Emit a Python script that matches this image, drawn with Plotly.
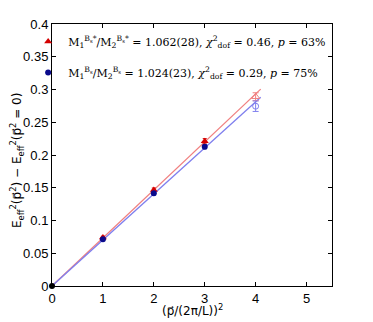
import numpy as np
import plotly.graph_objects as go

# momentum squared in units of (2pi/L)^2
x_fit = [1, 2, 3]
x_out = [4]

# B_s^* (red) and B_s (blue) energy differences
red_vals = [0.0740, 0.1466, 0.2210]
red_err = [0.0020, 0.0030, 0.0040]
blue_vals = [0.0712, 0.1415, 0.2125]
blue_err = [0.0015, 0.0025, 0.0030]
red_out = [0.2890]
red_out_err = [0.0060]
blue_out = [0.2745]
blue_out_err = [0.0080]

# fitted slopes and line extent
red_slope = 0.0733
blue_slope = 0.0703
line_x = [0, 4.1]

RED = "#d40000"
BLUE = "#0a0a8c"
LRED = "#f08080"
LBLUE = "#8080ee"

fig = go.Figure()

fig.add_trace(go.Scatter(x=line_x, y=[red_slope * v for v in line_x], mode="lines",
                         line=dict(color=LRED, width=1.3), showlegend=False))
fig.add_trace(go.Scatter(x=line_x, y=[blue_slope * v for v in line_x], mode="lines",
                         line=dict(color=LBLUE, width=1.3), showlegend=False))

fig.add_trace(go.Scatter(
    x=x_fit, y=red_vals, mode="markers",
    error_y=dict(type="data", array=red_err, color=RED, thickness=1, width=2),
    marker=dict(symbol="triangle-up", size=7, color=RED),
    name="M<sub>1</sub><sup>B<sub>s</sub>*</sup>/M<sub>2</sub><sup>B<sub>s</sub>*</sup> = 1.062(28), "
         "<i>χ</i><sup>2</sup><sub>dof</sub> = 0.46, <i>p</i> = 63%",
    legendgroup="a"))
fig.add_trace(go.Scatter(
    x=x_fit, y=blue_vals, mode="markers",
    error_y=dict(type="data", array=blue_err, color=BLUE, thickness=1, width=2),
    marker=dict(symbol="circle", size=6, color=BLUE),
    name="M<sub>1</sub><sup>B<sub>s</sub></sup>/M<sub>2</sub><sup>B<sub>s</sub></sup> = 1.024(23), "
         "<i>χ</i><sup>2</sup><sub>dof</sub> = 0.29, <i>p</i> = 75%",
    legendgroup="b"))

fig.add_trace(go.Scatter(
    x=x_out, y=red_out, mode="markers", showlegend=False,
    error_y=dict(type="data", array=red_out_err, color=LRED, thickness=1, width=3),
    marker=dict(symbol="triangle-up-open", size=7, color=LRED)))
fig.add_trace(go.Scatter(
    x=x_out, y=blue_out, mode="markers", showlegend=False,
    error_y=dict(type="data", array=blue_out_err, color=LBLUE, thickness=1, width=3),
    marker=dict(symbol="circle-open", size=6, color=LBLUE)))

fig.add_trace(go.Scatter(x=[0], y=[0], mode="markers", showlegend=False, cliponaxis=False,
                         marker=dict(symbol="circle", size=6, color="black")))

axis_common = dict(showline=True, linecolor="black", linewidth=1, mirror="ticks",
                   ticks="inside", ticklen=4, tickcolor="black", showgrid=False,
                   zeroline=False, automargin=False,
                   tickfont=dict(family="Liberation Sans", size=13, color="black"))

fig.update_xaxes(range=[0, 5.5], tickvals=[0, 1, 2, 3, 4, 5], **axis_common)
fig.update_yaxes(range=[0, 0.4], tickvals=list(np.round(np.arange(0, 0.401, 0.05), 2)),
                 ticktext=["0", "0.05", "0.1", "0.15", "0.2", "0.25", "0.3", "0.35", "0.4"],
                 **axis_common)

title_font = dict(family="DejaVu Sans", size=12, color="black")
fig.add_annotation(text="(p\u20d7/(2π/L))<sup>2</sup>", xref="paper", yref="paper",
                   x=0.5, y=0, xanchor="center", yanchor="top", yshift=-14,
                   showarrow=False, font=title_font)
fig.add_annotation(text="E<sub>eff</sub><sup>2</sup>(p\u20d7<sup>2</sup>) − "
                        "E<sub>eff</sub><sup>2</sup>(p\u20d7<sup>2</sup> = 0)",
                   xref="paper", yref="paper", x=0, y=0.5, xshift=-35, yshift=-6,
                   xanchor="center", yanchor="middle", textangle=-90,
                   showarrow=False, font=title_font)

fig.update_layout(
    width=373, height=322,
    margin=dict(l=44, r=49, t=16, b=44, autoexpand=False),
    plot_bgcolor="white", paper_bgcolor="white",
    legend=dict(xref="container", yref="container", x=0.054, y=0.941,
                xanchor="left", yanchor="top",
                bgcolor="rgba(0,0,0,0)", tracegroupgap=12, itemwidth=30,
                font=dict(family="DejaVu Serif", size=11, color="black")),
)

fig.write_html("out.html")
